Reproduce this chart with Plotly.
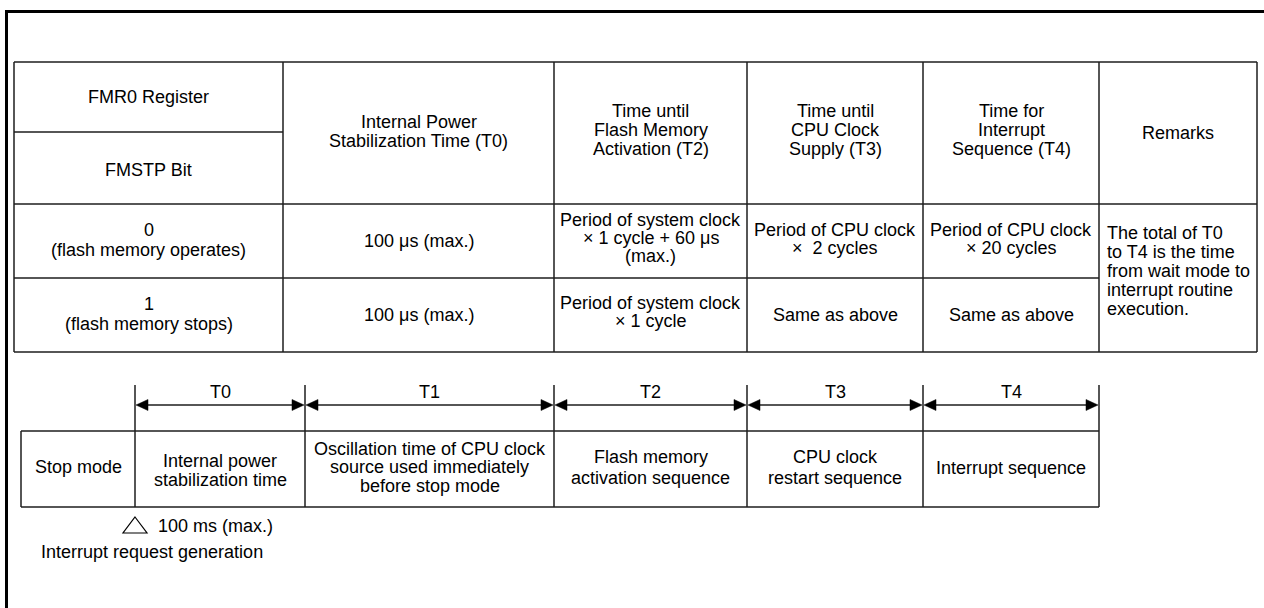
import plotly.graph_objects as go

# ---------------- content (text data) ----------------
reg_header = ["FMR0 Register", "FMSTP Bit"]
col_headers = [
    ["Internal Power", "Stabilization Time (T0)"],
    ["Time until", "Flash Memory", "Activation (T2)"],
    ["Time until", "CPU Clock", "Supply (T3)"],
    ["Time for", "Interrupt", "Sequence (T4)"],
    ["Remarks"],
]
row_labels = [["0", "(flash memory operates)"], ["1", "(flash memory stops)"]]
t0_values = [["100 \u03bcs (max.)"], ["100 \u03bcs (max.)"]]
t2_values = [["Period of system clock", "\u00d7 1 cycle + 60 \u03bcs", "(max.)"],
             ["Period of system clock", "\u00d7 1 cycle"]]
t3_values = [["Period of CPU clock", "\u00d7\u00a0 2 cycles"], ["Same as above"]]
t4_values = [["Period of CPU clock", "\u00d7 20 cycles"], ["Same as above"]]
remarks = ["The total of T0", "to T4 is the time", "from wait mode to",
           "interrupt routine", "execution."]

phase_names = ["T0", "T1", "T2", "T3", "T4"]
phase_boxes = [
    ["Internal power", "stabilization time"],
    ["Oscillation time of CPU clock", "source used immediately", "before stop mode"],
    ["Flash memory", "activation sequence"],
    ["CPU clock", "restart sequence"],
    ["Interrupt sequence"],
]
start_box = "Stop mode"
wake_note = "100 ms (max.)"
wake_event = "Interrupt request generation"

# ---------------- layout geometry ----------------
W, H = 1264, 608
FONT = "Liberation Sans, Arial, sans-serif"
FS = 18
LINE = "#1e1e1e"
LW = 1.5

col_x = [14, 283, 554, 747, 923, 1099, 1257]
row_y = [62, 204, 278, 352]
hdr_split = 132

seg_x = [135, 305, 554, 747, 923, 1099]
stop_left = 21
box_top, box_bot = 431, 507
vline_top = 385
arrow_y = 405
label_y = 392

shapes = []
annots = []


def hline(x0, x1, y, w=LW, c=LINE):
    shapes.append(dict(type="line", x0=x0, x1=x1, y0=y, y1=y, xref="x", yref="y",
                       line=dict(color=c, width=w)))


def vline(x, y0, y1, w=LW, c=LINE):
    shapes.append(dict(type="line", x0=x, x1=x, y0=y0, y1=y1, xref="x", yref="y",
                       line=dict(color=c, width=w)))


def text_lines(lines, cx, cy, spacing, anchor="center"):
    n = len(lines)
    for i, t in enumerate(lines):
        y = cy + (i - (n - 1) / 2) * spacing
        annots.append(dict(x=cx, y=y, xref="x", yref="y", text=t, showarrow=False,
                           xanchor=anchor, yanchor="middle",
                           font=dict(family=FONT, size=FS, color="#000")))


def mid(a, b):
    return (a + b) / 2

# outer frame
hline(5, W + 5, 11.5, w=3, c="#000")
vline(6.5, 10, H + 5, w=3, c="#000")

# ---------------- table ----------------
hline(col_x[0], col_x[-1], row_y[0])
hline(col_x[0], col_x[-1], row_y[1])
hline(col_x[0], col_x[5], row_y[2])
hline(col_x[0], col_x[-1], row_y[3])
hline(col_x[0], col_x[1], hdr_split)
for x in col_x:
    vline(x, row_y[0], row_y[3])

# header texts
text_lines([reg_header[0]], mid(col_x[0], col_x[1]), 97, 19)
text_lines([reg_header[1]], mid(col_x[0], col_x[1]), 170, 19)
hdr_centers = [131.5, 130, 130, 130, 133]
for j, lines in enumerate(col_headers):
    text_lines(lines, mid(col_x[j + 1], col_x[j + 2]), hdr_centers[j], 19)

# body rows
row_centers = [(240, 241, 238, 239), (314, 315, 312, 315)]
for r in range(2):
    c0, c1, c2, c3 = row_centers[r]
    text_lines(row_labels[r], mid(col_x[0], col_x[1]), c0, 20)
    text_lines(t0_values[r], mid(col_x[1], col_x[2]), c1, 18)
    text_lines(t2_values[r], mid(col_x[2], col_x[3]), c2, 18)
    text_lines(t3_values[r], mid(col_x[3], col_x[4]), c3, 18)
    text_lines(t4_values[r], mid(col_x[4], col_x[5]), c3, 18)

text_lines(remarks, col_x[5] + 6, 271, 19, anchor="left")

# ---------------- timeline ----------------
for x in seg_x:
    vline(x, vline_top, box_bot)
hline(stop_left, seg_x[-1], box_top)
hline(stop_left, seg_x[-1], box_bot)
vline(stop_left, box_top, box_bot)

AL, AH = 12, 5.5
for i, name in enumerate(phase_names):
    xa, xb = seg_x[i], seg_x[i + 1]
    hline(xa + AL - 1, xb - AL + 1, arrow_y)
    shapes.append(dict(type="path", xref="x", yref="y",
                       path=f"M {xa+1} {arrow_y} L {xa+1+AL} {arrow_y-AH} L {xa+1+AL} {arrow_y+AH} Z",
                       fillcolor="#000", line=dict(color="#000", width=0.5)))
    shapes.append(dict(type="path", xref="x", yref="y",
                       path=f"M {xb-1} {arrow_y} L {xb-1-AL} {arrow_y-AH} L {xb-1-AL} {arrow_y+AH} Z",
                       fillcolor="#000", line=dict(color="#000", width=0.5)))
    text_lines([name], mid(xa, xb), label_y, 19)

box_centers = [470, 467, 467.5, 467.5, 468]
box_spacing = [19, 18.5, 21, 21, 19]
text_lines([start_box], mid(stop_left, seg_x[0]), 467, 19)
for i, lines in enumerate(phase_boxes):
    text_lines(lines, mid(seg_x[i], seg_x[i + 1]), box_centers[i], box_spacing[i])

# wake-up marker (hollow triangle)
shapes.append(dict(type="path", xref="x", yref="y",
                   path="M 135 517 L 147 533 L 123 533 Z",
                   fillcolor="rgba(0,0,0,0)", line=dict(color="#000", width=1.2)))
text_lines([wake_note], 156, 526, 19, anchor="left")
text_lines([wake_event], 39, 552, 19, anchor="left")

fig = go.Figure()
fig.update_layout(
    width=W, height=H, autosize=False,
    margin=dict(l=0, r=0, t=0, b=0),
    paper_bgcolor="white", plot_bgcolor="white",
    xaxis=dict(range=[0, W], visible=False, fixedrange=True),
    yaxis=dict(range=[H, 0], visible=False, fixedrange=True),
    shapes=shapes, annotations=annots, showlegend=False,
)
fig.write_html("out.html", config={"displayModeBar": False},
               post_script="document.body.style.margin='0';document.body.style.overflow='hidden';")
